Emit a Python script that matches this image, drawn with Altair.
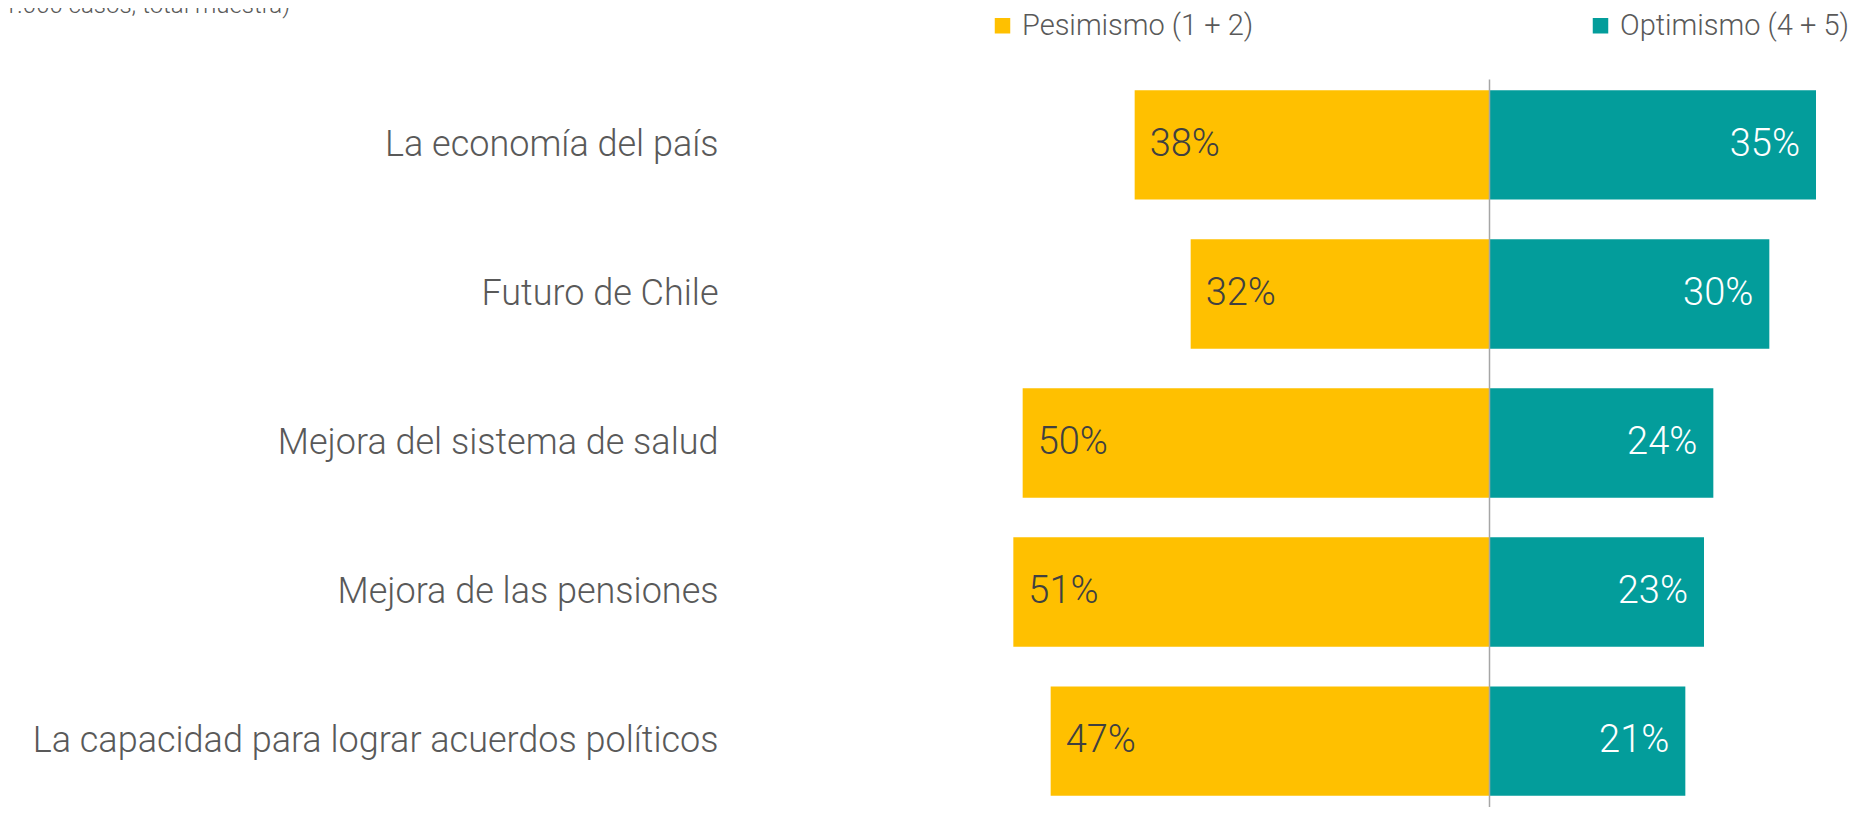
import altair as alt
import pandas as pd

categories = [
    "La economía del país",
    "Futuro de Chile",
    "Mejora del sistema de salud",
    "Mejora de las pensiones",
    "La capacidad para lograr acuerdos políticos",
]
pesimismo = [38, 32, 50, 51, 47]
optimismo = [35, 30, 24, 23, 21]
series_names = ["Pesimismo (1 + 2)", "Optimismo (4 + 5)"]
series_colors = ["#FFC000", "#039D9B"]
note_text = ["(Base: 1.000 casos; total muestra)"]

rows = []
for c, p, o in zip(categories, pesimismo, optimismo):
    rows.append({"cat": c, "serie": series_names[0], "val": -p, "lab": f"{p}%"})
    rows.append({"cat": c, "serie": series_names[1], "val": o, "lab": f"{o}%"})
df = pd.DataFrame(rows)

FONT = "Roboto"

x = alt.X(
    "val:Q",
    title=None,
    scale=alt.Scale(domain=[-55, 38], nice=False, zero=False),
    axis=alt.Axis(
        values=[0], grid=True, gridColor="#A6A6A6", gridWidth=1.5, labels=False,
        ticks=False, domain=False, zindex=1,
    ),
)
y = alt.Y(
    "cat:N",
    sort=categories,
    title=None,
    scale=alt.Scale(paddingInner=0.266, paddingOuter=0.075),
    axis=alt.Axis(
        domain=False, ticks=False, labelFontSize=36, labelFont=FONT, labelFontWeight=300,
        labelColor="#595959", labelPadding=258, labelLimit=900,
    ),
)

base = alt.Chart(df)

bars = base.mark_bar().encode(
    x=x,
    y=y,
    color=alt.Color(
        "serie:N",
        scale=alt.Scale(domain=series_names, range=series_colors),
        legend=alt.Legend(
            title=None, orient="none", legendX=12, legendY=-68, direction="horizontal",
            symbolType="square", symbolSize=240, symbolStrokeWidth=0,
            labelFontSize=29, labelFont=FONT, labelFontWeight=300, labelColor="#595959",
            columnPadding=332, labelOffset=5, labelLimit=500,
        ),
    ),
)

txt_p = base.transform_filter(alt.datum.serie == series_names[0]).mark_text(
    align="left", baseline="middle", dx=15, fontSize=38, font=FONT, fontWeight=300, color="#404040"
).encode(x=x, y=y, text="lab:N")

txt_o = base.transform_filter(alt.datum.serie == series_names[1]).mark_text(
    align="right", baseline="middle", dx=-16, fontSize=38, font=FONT, fontWeight=300, color="#FFFFFF"
).encode(x=x, y=y, text="lab:N")

note = alt.Chart(pd.DataFrame({"t": note_text})).mark_text(
    align="right", baseline="alphabetic", fontSize=24, font=FONT, fontWeight=300, color="#595959"
).encode(x=alt.value(-686), y=alt.value(-66), text="t:N")

chart = (
    alt.layer(bars, txt_p, txt_o, note)
    .properties(
        width=868, height=728, autosize="none",
        padding={"left": 968, "top": 71, "right": 13, "bottom": 0},
    )
    .configure_view(stroke=None)
)

chart.save("out.html", embed_options={"renderer": "svg", "actions": False})
